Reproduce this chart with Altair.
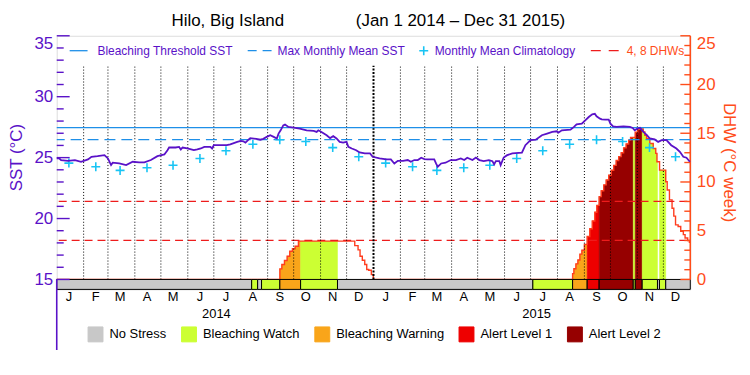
import altair as alt
import pandas as pd

FONT = "Liberation Sans"
PURPLE = "#5a12c8"
BLUE = "#1e8fe8"
CYAN = "#18c4f4"
DHWC = "#ff3c1e"
REDD = "#ee1c1c"
ORANGE_AX = "#ff4d1a"

W, H = 637, 255
SST_LO = 15 - 10 / 12.25
DHW_LO = -10 / 9.8

# ---------------- data ----------------
sst_days = [0, 3, 5, 13, 21, 28, 36, 40, 47, 55, 59, 62.6, 64.5, 72, 80, 87.5, 95, 101, 108.5,
            116, 124, 127.6, 129.5, 137, 141, 143, 145, 150.5, 158, 162, 166, 170, 177, 179, 181,
            196, 200, 208, 212, 215, 217.4, 221, 223, 230, 234.6, 238, 242, 246, 250, 253.6,
            255.6, 258, 261, 263, 267, 273, 280, 288, 296, 299.5, 301.4, 305, 311, 315, 318.6,
            322.4, 326, 330, 333.9, 336, 340, 345, 349, 355, 361, 364, 372, 380, 385, 389, 393,
            399, 404.5, 408, 412, 416, 420, 423.6, 427, 435, 437, 439, 443, 448, 454, 460, 465.6,
            469.5, 473, 479, 483, 487, 492, 498, 502, 504, 506, 510, 511.5, 515, 519, 525, 536,
            540, 546, 552, 559, 565, 571, 576, 578, 582, 592, 596, 599, 605, 609, 613, 617, 620,
            622, 626, 628, 632, 636, 638, 641, 645, 653, 660.5, 663.6, 666, 669, 672, 676, 680,
            683.5, 689, 693, 697, 702.6, 708, 714, 718, 722, 725.6, 729.5]
sst_vals = [24.93, 24.93, 24.80, 24.74, 24.80, 24.66, 24.85, 25.07, 25.12, 25.20, 24.93, 24.39,
            24.58, 24.52, 24.39, 24.66, 24.61, 24.61, 24.80, 25.12, 25.26, 25.61, 25.83, 25.83,
            25.88, 25.67, 25.83, 25.75, 25.61, 25.67, 25.75, 25.88, 25.88, 25.75, 26.02, 26.02,
            26.08, 26.29, 26.37, 26.34, 26.23, 26.47, 26.60, 26.54, 26.47, 26.54, 26.70, 26.84,
            26.70, 26.57, 26.97, 27.24, 27.65, 27.71, 27.52, 27.46, 27.38, 27.24, 27.19, 27.11,
            27.24, 27.11, 26.84, 26.60, 26.76, 26.57, 26.29, 26.23, 26.29, 25.88, 25.75, 25.61,
            25.42, 25.34, 25.34, 25.07, 24.93, 24.85, 24.85, 24.52, 24.74, 24.74, 24.80, 24.66,
            24.80, 24.80, 24.99, 24.88, 24.85, 24.85, 24.52, 24.25, 24.52, 24.58, 24.80, 24.80,
            24.93, 24.80, 24.99, 24.80, 25.01, 24.80, 24.71, 24.80, 24.71, 24.44, 24.71, 24.71,
            24.39, 25.01, 25.20, 25.34, 25.40, 26.02, 26.43, 26.47, 26.84, 26.97, 27.11, 27.16,
            27.05, 27.24, 27.30, 27.52, 27.73, 27.79, 28.06, 28.33, 28.55, 28.60, 28.39, 28.20,
            28.14, 28.11, 28.11, 27.79, 27.57, 27.52, 27.57, 27.52, 27.44, 27.24, 27.38, 27.44,
            27.11, 26.84, 26.57, 26.49, 26.29, 26.43, 26.43, 26.02, 25.75, 25.48, 25.07, 24.99,
            24.66]

clim_vals = [24.55, 24.25, 23.95, 24.17, 24.37, 24.93, 25.56, 26.10, 26.47, 26.32, 25.82, 25.07]
mmm_sst = 26.47
threshold_sst = 27.47
dhw_ref = [4, 8]

dhw_days = [0, 257.1, 259.4, 262.4, 265.5, 268.5, 271.6, 274.7, 278.5, 343.4, 347.2, 349.5,
            352.1, 354.9, 357.2, 359.5, 362.5, 364.8, 594.4, 595.9, 598.2, 600.5, 602.8, 605.1,
            608, 611.2, 614.2, 617.1, 620, 622.3, 625, 627.4, 630.3, 633.1, 636, 638.9, 641.8,
            644.6, 647.5, 650.4, 653.2, 656.1, 659, 661.2, 666.6, 669.3, 671.5, 673.8, 675.8,
            677.6, 679.6, 683.4, 687.3, 690.2, 691.6, 694.6, 701.7, 703.4, 706, 709, 711, 713,
            716, 719, 722, 724, 727, 729, 730]
dhw_vals = [0, 1.09, 1.53, 1.94, 2.38, 2.89, 3.15, 3.4, 3.93, 3.47, 3.04, 2.38, 1.97, 1.53,
            1.02, 0.95, 0.51, 0, 0.6, 1.1, 1.6, 2.0, 2.6, 3.0, 3.6, 4.4, 5.2, 6.0, 6.9, 7.6, 8.5,
            9.1, 9.7, 10.2, 10.7, 11.2, 11.7, 12.2, 12.6, 13.0, 13.5, 13.9, 14.3, 14.56, 15.1,
            15.4, 15.55, 15.45, 15.14, 14.8, 14.46, 13.95, 13.44, 12.93, 12.07, 11.22, 10.03,
            9.18, 8.16, 7.3, 6.5, 5.6, 5.44, 4.93, 4.6, 4.25, 4.0, 3.8, 3.8]

categories = ["No Stress", "Bleaching Watch", "Bleaching Warning", "Alert Level 1", "Alert Level 2"]
cat_colors = ["#c8c8c8", "#ccff33", "#f9a51a", "#ee0000", "#960000"]

stress_start = [0, 224.6, 231.5, 236, 257.1, 281, 323.5, 548.6, 594.4, 611.2, 625, 664.3,
                666.6, 674.6, 692.2, 694.5, 701.7]
stress_end = stress_start[1:] + [730]
stress_cat = ["No Stress", "Bleaching Watch", "No Stress", "Bleaching Watch", "Bleaching Warning",
              "Bleaching Watch", "No Stress", "Bleaching Watch", "Bleaching Warning",
              "Alert Level 1", "Alert Level 2", "Bleaching Watch", "Alert Level 2",
              "Bleaching Watch", "No Stress", "Bleaching Watch", "No Stress"]

month_letters = list("JFMAMJJASOND") * 2
year_labels = ["2014", "2015"]
year_days = [184, 553]

# ---------------- tables ----------------
start = pd.Timestamp("2014-01-01")
mstarts = pd.date_range("2014-01-01", "2015-12-01", freq="MS")
mstart_days = [(d - start).days for d in mstarts]
mid_days = [(d + pd.Timedelta(days=14) - start).days for d in mstarts]

sst_df = pd.DataFrame({"day": sst_days, "sst": sst_vals})
clim_df = pd.DataFrame({"day": mid_days, "sst": clim_vals * 2})
month_df = pd.DataFrame({"day": mid_days, "m": month_letters})
year_df = pd.DataFrame({"day": year_days, "y": year_labels})
dot_df = pd.DataFrame({"day": [d for d in mstart_days if d not in (0, 365)], "lo": 15, "hi": 32.55})
dot15_df = pd.DataFrame({"day": [365], "lo": 15, "hi": 32.55})
dhw_df = pd.DataFrame({"day": dhw_days, "dhw": dhw_vals})
stress_df = pd.DataFrame({"x": stress_start, "x2": stress_end, "cat": stress_cat,
                          "lo": DHW_LO, "hi": 0})


def dhw_at(t):
    v = 0
    for d, val in zip(dhw_days, dhw_vals):
        if d <= t:
            v = val
    return v


rows = []
for k, (s, e, c) in enumerate(zip(stress_start, stress_end, stress_cat)):
    if c == "No Stress":
        continue
    pts = [s] + [d for d in dhw_days if s < d < e]
    vals = [dhw_at(p) for p in pts]
    if max(vals) <= 0:
        continue
    pts.append(e)
    vals.append(vals[-1])
    for p, v in zip(pts, vals):
        rows.append({"day": p, "dhw": v, "cat": c, "seg": k})
fill_df = pd.DataFrame(rows)

sst_ticks = pd.DataFrame({"v": list(range(15, 36))})
dhw_ticks = pd.DataFrame({"v": list(range(0, 26))})
one = pd.DataFrame({"a": [0]})

# ---------------- scales ----------------
xs = alt.Scale(domain=[0, 730], nice=False, zero=False)
ys = alt.Scale(domain=[SST_LO, 35], nice=False, zero=False)
yd = alt.Scale(domain=[DHW_LO, 25], nice=False, zero=False)
cs = alt.Scale(domain=categories, range=cat_colors)

sst_axis = alt.Axis(orient="left", values=[15, 20, 25, 30, 35], ticks=False, domain=False,
                    grid=False, labelColor=PURPLE, labelFont=FONT, labelFontSize=17,
                    labelPadding=4, labelFlush=True, title="SST (°C)", titleColor=PURPLE,
                    titleFont=FONT, titleFontSize=17, titleFontWeight="normal",
                    titleAngle=-90, titleX=-40, titleY=122, titleAlign="center",
                    titleBaseline="middle")
dhw_axis = alt.Axis(orient="right", values=[0, 5, 10, 15, 20, 25], ticks=False, domain=False,
                    grid=False, labelColor=ORANGE_AX, labelFont=FONT, labelFontSize=17,
                    labelPadding=6, labelFlush=True, title="DHW (°C week)",
                    titleColor=ORANGE_AX, titleFont=FONT, titleFontSize=17,
                    titleFontWeight="normal", titleAngle=90, titleX=38, titleY=127,
                    titleAlign="center", titleBaseline="middle")


def X(f="day"):
    return alt.X(f, type="quantitative", scale=xs, axis=None)


def YS(f):
    return alt.Y(f, type="quantitative", scale=ys, axis=sst_axis)


def YD(f):
    return alt.Y(f, type="quantitative", scale=yd, axis=dhw_axis)


# ---------------- DHW group ----------------
fills = alt.Chart(fill_df).mark_area(interpolate="step-after", strokeWidth=0.5,
                                     opacity=1).encode(
    x=X(), y=YD("dhw"), y2=alt.datum(0),
    detail="seg:N",
    color=alt.Color("cat:N", scale=cs, title=None,
                    legend=alt.Legend(orient="none", legendX=31, legendY=292,
                                      direction="horizontal", symbolType="square",
                                      symbolSize=225, symbolStrokeColor="black",
                                      symbolStrokeWidth=1, symbolOpacity=1,
                                      labelFont=FONT, labelFontSize=13, labelColor="black",
                                      labelOffset=6, columnPadding=12)),
    stroke=alt.Stroke("cat:N", scale=cs, legend=None))

dhw_line = alt.Chart(dhw_df).mark_line(interpolate="step-after", color=DHWC,
                                       strokeWidth=1.4).encode(x=X(), y=YD("dhw"))

stress_bar = alt.Chart(stress_df).mark_rect(stroke="black", strokeWidth=1).encode(
    x=X("x"), x2="x2", y=YD("lo"), y2="hi",
    color=alt.Color("cat:N", scale=cs, title=None))

ref_dash = alt.Chart(pd.DataFrame({"v": dhw_ref})).mark_rule(
    color=REDD, strokeWidth=1.3, strokeDash=[8, 5], strokeDashOffset=-3).encode(y=YD("v"))

rt_major = alt.Chart(dhw_ticks[dhw_ticks.v % 5 == 0]).mark_rule(
    color=ORANGE_AX, strokeWidth=1.4).encode(x=alt.value(W - 10), x2=alt.value(W), y=YD("v"))
rt_minor = alt.Chart(dhw_ticks[dhw_ticks.v % 5 != 0]).mark_rule(
    color=ORANGE_AX, strokeWidth=1.4).encode(x=alt.value(W - 6), x2=alt.value(W), y=YD("v"))
r_line = alt.Chart(one).mark_rule(color=ORANGE_AX, strokeWidth=1.6).encode(
    x=alt.value(W), y=alt.Y("a:Q", scale=yd, axis=dhw_axis), y2=alt.datum(25))

dhw_group = alt.layer(fills, dhw_line, stress_bar, ref_dash, rt_major, rt_minor, r_line)

# ---------------- SST group ----------------
dots = alt.Chart(dot_df).mark_rule(color="black", strokeWidth=1, strokeDash=[1, 2]).encode(
    x=X(), y=YS("lo"), y2="hi")
dots15 = alt.Chart(dot15_df).mark_rule(color="black", strokeWidth=2, strokeDash=[2, 1.5]).encode(
    x=X(), y=YS("lo"), y2="hi")
thr = alt.Chart(pd.DataFrame({"v": [threshold_sst]})).mark_rule(
    color=BLUE, strokeWidth=1.3).encode(y=YS("v"))
mmm = alt.Chart(pd.DataFrame({"v": [mmm_sst]})).mark_rule(
    color=BLUE, strokeWidth=1.3, strokeDash=[11, 6]).encode(y=YS("v"))
CROSS = "M-1,0L1,0M0,-1L0,1"
clim = alt.Chart(clim_df).mark_point(shape=CROSS, size=81, strokeWidth=1.6, color=CYAN,
                                     filled=False, opacity=1).encode(x=X(), y=YS("sst"))
sst_line = alt.Chart(sst_df).mark_line(color=PURPLE, strokeWidth=1.8).encode(
    x=X(), y=YS("sst"))

lt_major = alt.Chart(sst_ticks[sst_ticks.v % 5 == 0]).mark_rule(
    color=PURPLE, strokeWidth=1.4).encode(x=alt.value(0), x2=alt.value(13), y=YS("v"))
lt_minor = alt.Chart(sst_ticks[sst_ticks.v % 5 != 0]).mark_rule(
    color=PURPLE, strokeWidth=1.4).encode(x=alt.value(0), x2=alt.value(7), y=YS("v"))
l_line = alt.Chart(one).mark_rule(color=PURPLE, strokeWidth=1.6).encode(
    x=alt.value(0), y=alt.Y("a:Q", scale=ys, axis=sst_axis), y2=alt.datum(15))


def label(txt, x, color, size=12, y=15, align="left"):
    return alt.Chart(one).mark_text(text=txt, font=FONT, fontSize=size, color=color,
                                    align=align, baseline="middle").encode(
        x=alt.value(x), y=alt.value(y))


leg1 = alt.Chart(one).mark_rule(color=BLUE, strokeWidth=1.3).encode(
    x=alt.value(13), x2=alt.value(31), y=alt.value(15))
leg2 = alt.Chart(one).mark_rule(color=BLUE, strokeWidth=1.3, strokeDash=[9, 6]).encode(
    x=alt.value(192), x2=alt.value(216), y=alt.value(15))
leg3 = alt.Chart(one).mark_point(shape=CROSS, size=81, strokeWidth=1.6, color=CYAN,
                                 filled=False, opacity=1).encode(x=alt.value(369), y=alt.value(15))
leg4 = alt.Chart(one).mark_rule(color=REDD, strokeWidth=1.3, strokeDash=[10, 8]).encode(
    x=alt.value(537), x2=alt.value(566), y=alt.value(15))

months = alt.Chart(month_df).mark_text(font=FONT, fontSize=13, color="black",
                                       baseline="middle").encode(
    x=X(), y=alt.value(263), text="m:N")
yrs = alt.Chart(year_df).mark_text(font=FONT, fontSize=13, color="black",
                                   baseline="middle").encode(
    x=X(), y=alt.value(280), text="y:N")

sst_group = alt.layer(
    dots, dots15, mmm, thr, clim, sst_line, lt_major, lt_minor, l_line,
    leg1, label("Bleaching Threshold SST", 41, PURPLE),
    leg2, label("Max Monthly Mean SST", 222, PURPLE),
    leg3, label("Monthly Mean Climatology", 380, PURPLE),
    leg4, label("4, 8 DHWs", 573, ORANGE_AX),
    label("Hilo, Big Island", 172, "black", size=17, y=-15, align="center"),
    label("(Jan 1 2014 \u2013 Dec 31 2015)", 406, "black", size=17, y=-15, align="center"),
    months, yrs)

chart = alt.layer(dhw_group, sst_group).resolve_scale(
    y="independent", color="shared"
).properties(
    width=W, height=H,
    autosize=alt.AutoSizeParams(type="none"),
    padding={"left": 49, "top": 27, "right": 52, "bottom": 60},
).configure_view(stroke="black", strokeWidth=1).configure(font=FONT)

chart.save("out.html", embed_options={"renderer": "svg", "actions": False})
